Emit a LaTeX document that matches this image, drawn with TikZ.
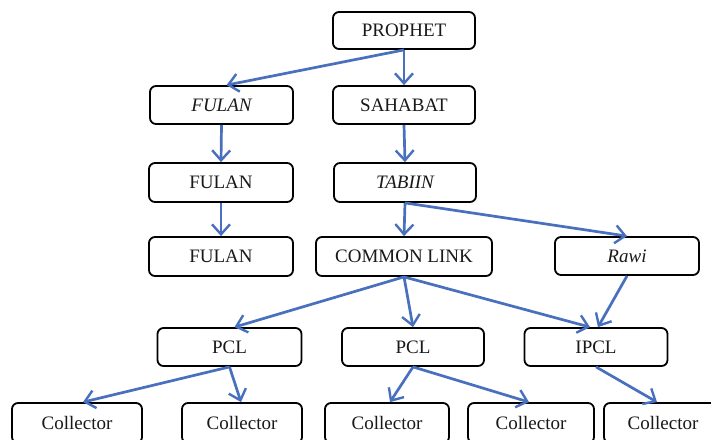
\documentclass[tikz,border=0pt]{standalone}
\usepackage{fontspec}
\setmainfont{Liberation Serif}
\usetikzlibrary{arrows.meta}
\definecolor{arrowblue}{RGB}{72,112,190}
\tikzset{
  box/.style={draw=black, line width=1.8pt, rounded corners=6pt, fill=white,
    inner sep=0pt, font=\fontsize{19}{21}\selectfont, text=black!90},
  link/.style={draw=arrowblue, line width=2.7pt,
    -{Straight Barb[length=10pt,width=18pt,line width=2.4pt]}}
}
\begin{document}
\begin{tikzpicture}[x=1pt,y=-1pt]
\useasboundingbox (0,0) rectangle (711,439);
\clip (0,0) rectangle (711,439);
\fill[white] (0,0) rectangle (711,439);
% row 1
\node[box, minimum width=142pt, minimum height=37pt] (prophet) at (404,30.5) {PROPHET};
% row 2
\node[box, minimum width=143pt, minimum height=38pt] (fulanA) at (221.5,105) {\itshape FULAN};
\node[box, minimum width=142pt, minimum height=38pt] (sahabat) at (404,105) {SAHABAT};
% row 3
\node[box, minimum width=144pt, minimum height=39pt] (fulanB) at (221,182.5) {FULAN};
\node[box, minimum width=142pt, minimum height=39pt] (tabiin) at (405,182.5) {\itshape TABIIN};
% row 4
\node[box, minimum width=144pt, minimum height=39pt] (fulanC) at (221,256.5) {FULAN};
\node[box, minimum width=176pt, minimum height=39pt] (common) at (404,256.5) {COMMON LINK};
\node[box, minimum width=144pt, minimum height=38pt] (rawi) at (627,256) {\itshape Rawi};
% row 5
\node[box, minimum width=144pt, minimum height=38pt] (pclA) at (229.5,347) {PCL};
\node[box, minimum width=142pt, minimum height=38pt] (pclB) at (413,347) {PCL};
\node[box, minimum width=143pt, minimum height=38pt] (ipcl) at (596,347) {IPCL};
% row 6
\node[box, minimum width=130pt, minimum height=40pt] (colA) at (77,423) {Collector};
\node[box, minimum width=120pt, minimum height=40pt] (colB) at (242,423) {Collector};
\node[box, minimum width=124pt, minimum height=40pt] (colC) at (387,423) {Collector};
\node[box, minimum width=126pt, minimum height=40pt] (colD) at (531,423) {Collector};
\node[box, minimum width=118pt, minimum height=40pt] (colE) at (663,423) {Collector};
% connectors
\draw[link] (prophet.south) -- ([xshift=5pt]fulanA.north);
\draw[link] (prophet.south) -- (sahabat.north);
\draw[link] (fulanA.south) -- (fulanB.north);
\draw[link] (sahabat.south) -- (tabiin.north);
\draw[link] (fulanB.south) -- (fulanC.north);
\draw[link] (tabiin.south) -- (common.north);
\draw[link] (tabiin.south) -- (rawi.north);
\draw[link] (common.south) -- ([xshift=5pt]pclA.north);
\draw[link] (common.south) -- (pclB.north);
\draw[link] (common.south) -- ([xshift=-6pt]ipcl.north);
\draw[link] (rawi.south) -- ([xshift=2pt]ipcl.north);
\draw[link] (pclA.south) -- ([xshift=6pt]colA.north);
\draw[link] (pclA.south) -- ([xshift=-1pt]colB.north);
\draw[link] (pclB.south) -- ([xshift=3pt]colC.north);
\draw[link] (pclB.south) -- ([xshift=-2pt]colD.north);
\draw[link] (ipcl.south) -- ([xshift=-6pt]colE.north);
\end{tikzpicture}
\end{document}
